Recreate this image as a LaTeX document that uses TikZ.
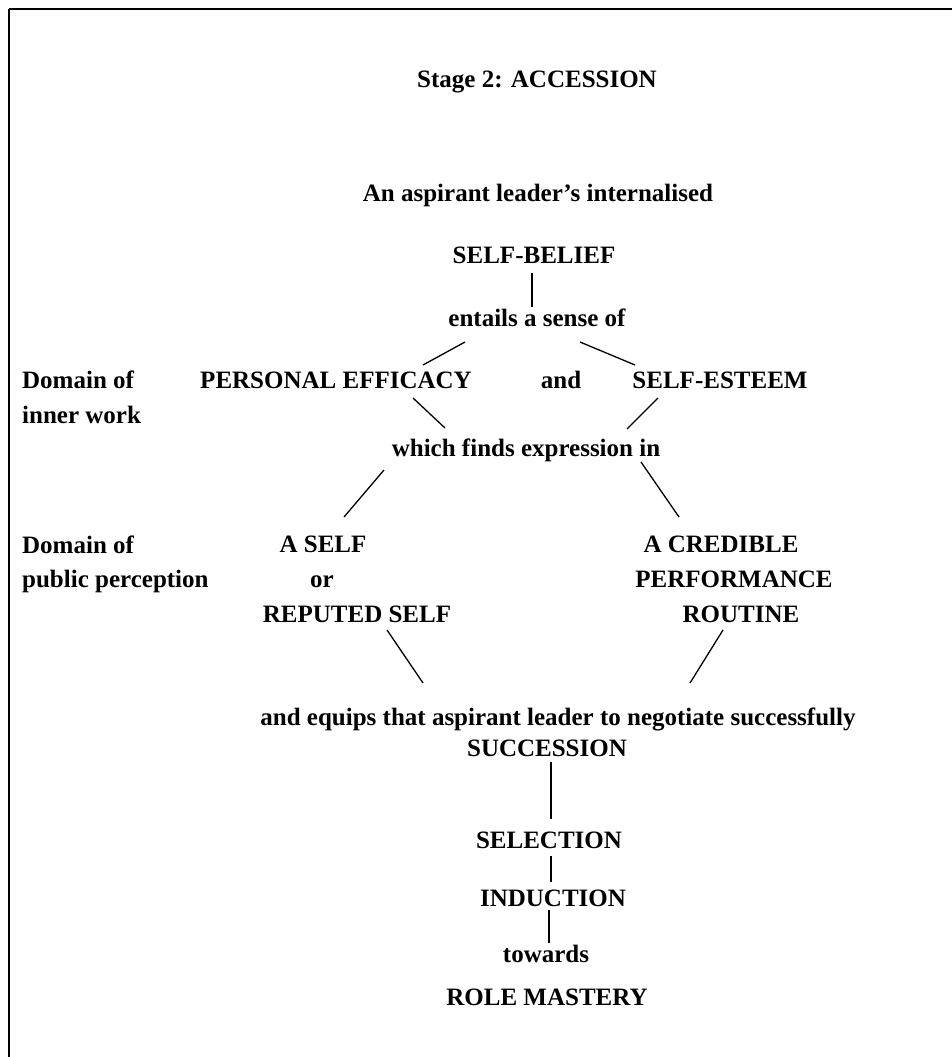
\documentclass[tikz,border=0pt]{standalone}
\usepackage{fontspec}
\setmainfont{Liberation Serif}
\begin{document}
\begin{tikzpicture}[x=1pt,y=-1pt,
  lbl/.style={inner sep=0pt,anchor=base,font=\fontsize{25}{30}\selectfont\bfseries},
  lftlbl/.style={lbl,anchor=base west},
  conn/.style={line width=1.3pt}]
\useasboundingbox (0,0) rectangle (952,1057);
\draw[line width=2pt] (9,9) -- (970,9);
\draw[line width=2pt] (9,9) -- (9,1070);
% texts
\node[lbl] (stage) at (537,88) {Stage 2: ACCESSION};
\node[lbl] (aspirant) at (538,201) {An aspirant leader’s internalised};
\node[lbl] (belief) at (534,263) {SELF-BELIEF};
\node[lbl] (entails) at (537,326) {entails a sense of};
\node[lftlbl] (dom1a) at (22,388) {Domain of};
\node[lftlbl] (dom1b) at (22,423) {inner work};
\node[lbl] (efficacy) at (336,388) {PERSONAL EFFICACY};
\node[lbl] (and) at (561,388) {and};
\node[lbl] (esteem) at (720,388) {SELF-ESTEEM};
\node[lbl] (which) at (526,456) {which finds expression in};
\node[lftlbl] (dom2a) at (22,553) {Domain of};
\node[lftlbl] (dom2b) at (22,587) {public perception};
\node[lbl] (aself) at (323,552) {A SELF};
\node[lbl] (or) at (322,587) {or};
\node[lbl] (reputed) at (357,622) {REPUTED SELF};
\node[lbl] (credible) at (721,552) {A CREDIBLE};
\node[lbl] (performance) at (734,587) {PERFORMANCE};
\node[lbl] (routine) at (741,622) {ROUTINE};
\node[lbl] (equips) at (558,725) {and equips that aspirant leader to negotiate successfully};
\node[lbl] (succession) at (547,756) {SUCCESSION};
\node[lbl] (selection) at (549,848) {SELECTION};
\node[lbl] (induction) at (553,906) {INDUCTION};
\node[lbl] (towards) at (546,962) {towards};
\node[lbl] (mastery) at (547,1005) {ROLE MASTERY};
% connector endpoints
\coordinate (c1a) at (532,273); \coordinate (c1b) at (532,307);
\coordinate (c2a) at (465,342); \coordinate (c2b) at (423,365);
\coordinate (c3a) at (580,342); \coordinate (c3b) at (635,365);
\coordinate (c4a) at (413,398); \coordinate (c4b) at (445,428);
\coordinate (c5a) at (658,398); \coordinate (c5b) at (627,429);
\coordinate (c6a) at (384,470); \coordinate (c6b) at (344,517);
\coordinate (c7a) at (641,462); \coordinate (c7b) at (679,517);
\coordinate (c8a) at (387,630); \coordinate (c8b) at (423,683);
\coordinate (c9a) at (723,630); \coordinate (c9b) at (690,683);
\coordinate (c10a) at (551,762); \coordinate (c10b) at (551,819);
\coordinate (c11a) at (551,856); \coordinate (c11b) at (551,882);
\coordinate (c12a) at (549,910); \coordinate (c12b) at (549,943);
\draw[conn] (c1a) -- (c1b);
\draw[conn] (c2a) -- (c2b);
\draw[conn] (c3a) -- (c3b);
\draw[conn] (c4a) -- (c4b);
\draw[conn] (c5a) -- (c5b);
\draw[conn] (c6a) -- (c6b);
\draw[conn] (c7a) -- (c7b);
\draw[conn] (c8a) -- (c8b);
\draw[conn] (c9a) -- (c9b);
\draw[conn] (c10a) -- (c10b);
\draw[conn] (c11a) -- (c11b);
\draw[conn] (c12a) -- (c12b);
\end{tikzpicture}
\end{document}
